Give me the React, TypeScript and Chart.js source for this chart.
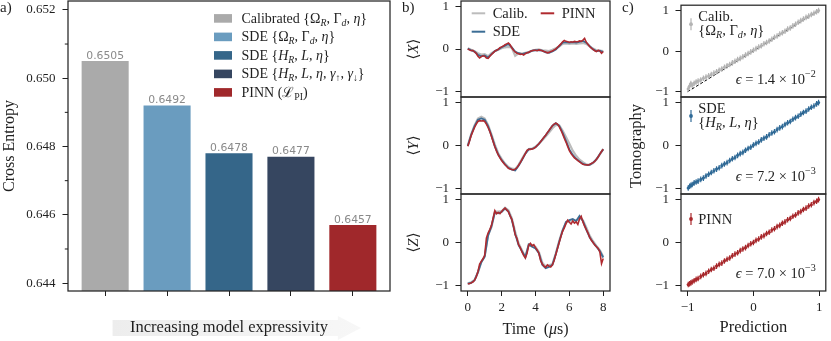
import React, { useEffect, useRef } from 'react';
import { Chart, registerables } from 'chart.js';

Chart.register(...registerables);

const SERIF = '"Liberation Serif", "DejaVu Serif", serif';
const SANS = '"DejaVu Sans", sans-serif';
const INK = '#1f1f1f';

// ---------------- panel a data ----------------
const MODEL_INDEX = [0, 1, 2, 3, 4];
const CROSS_ENTROPY = [0.6505, 0.6492, 0.6478, 0.6477, 0.6457];
const BAR_COLORS = ['#aaaaaa', '#6a9cbf', '#356689', '#364660', '#a0282b'];
const CE_MAJOR_TICKS = [0.644, 0.646, 0.648, 0.65, 0.652];
const CE_MINOR_TICKS = [0.645, 0.647, 0.649, 0.651];
const CE_RANGE = [0.64377, 0.65226];
const MODEL_RANGE = [-0.6, 4.6];

// ---------------- panel b data ----------------
const T_FINE = [
  0, 0.1, 0.2, 0.3, 0.4, 0.5, 0.6, 0.7, 0.8, 0.9,
  1.0, 1.1, 1.2, 1.3, 1.4, 1.5, 1.6, 1.7, 1.8, 1.9,
  2.0, 2.1, 2.2, 2.3, 2.4, 2.5, 2.6, 2.7, 2.8, 2.9,
  3.0, 3.1, 3.2, 3.3, 3.4, 3.5, 3.6, 3.7, 3.8, 3.9,
  4.0, 4.1, 4.2, 4.3, 4.4, 4.5, 4.6, 4.7, 4.8, 4.9,
  5.0, 5.1, 5.2, 5.3, 5.4, 5.5, 5.6, 5.7, 5.8, 5.9,
  6.0, 6.1, 6.2, 6.3, 6.4, 6.5, 6.6, 6.7, 6.8, 6.9,
  7.0, 7.1, 7.2, 7.3, 7.4, 7.5, 7.6, 7.7, 7.8, 7.9,
  8.0,
];
const T_COARSE = [
  0, 0.2, 0.4, 0.6, 0.8, 1.0, 1.2, 1.4, 1.6, 1.8,
  2.0, 2.2, 2.4, 2.6, 2.8, 3.0, 3.2, 3.4, 3.6, 3.8,
  4.0, 4.2, 4.4, 4.6, 4.8, 5.0, 5.2, 5.4, 5.6, 5.8,
  6.0, 6.2, 6.4, 6.6, 6.8, 7.0, 7.2, 7.4, 7.6, 7.8,
  8.0,
];

const X_PINN = [
  0.0, -0.02, -0.04, -0.03, -0.07, -0.1, -0.17, -0.21, -0.18, -0.16,
  -0.17, -0.21, -0.22, -0.17, -0.13, -0.09, -0.05, -0.03, -0.01, 0.03,
  0.05, 0.07, 0.1, 0.12, 0.14, 0.1, 0.03, -0.03, -0.07, -0.1,
  -0.11, -0.13, -0.12, -0.14, -0.11, -0.09, -0.08, -0.05, -0.04, -0.03,
  -0.03, -0.04, -0.02, -0.03, -0.04, -0.06, -0.07, -0.09, -0.08, -0.06,
  -0.05, -0.02, 0.0, 0.04, 0.08, 0.12, 0.17, 0.2, 0.18, 0.17,
  0.16, 0.17, 0.16, 0.18, 0.17, 0.17, 0.19, 0.18, 0.21, 0.25,
  0.16, 0.11, 0.06, 0.02, -0.01, -0.04, -0.06, -0.03, -0.05, -0.1,
  -0.06,
];
const X_SDE = [
  0.01, -0.03, -0.06, -0.14, -0.17, -0.15, -0.2, -0.12, -0.05, -0.01,
  0.04, 0.08, 0.12, 0.04, -0.06, -0.1, -0.12, -0.1, -0.08, -0.04,
  -0.03, -0.03, -0.04, -0.08, -0.09, -0.06, -0.01, 0.07, 0.15, 0.16,
  0.15, 0.16, 0.15, 0.17, 0.19, 0.15, 0.07, -0.01, -0.05, -0.04,
  -0.07,
];
const X_CALIB = [
  0.02, -0.02, -0.05, -0.1, -0.13, -0.12, -0.17, -0.1, -0.05, -0.02,
  0.02, 0.04, 0.05, 0.03, -0.16, -0.1, -0.11, -0.09, -0.07, -0.04,
  -0.02, -0.01, -0.03, -0.04, -0.05, -0.02, 0.02, 0.06, 0.12, 0.13,
  0.12, 0.13, 0.12, 0.13, 0.14, 0.12, 0.06, 0.01, -0.03, -0.04,
  -0.05,
];

const Y_PINN = [
  -0.02, 0.1, 0.23, 0.33, 0.42, 0.5, 0.56, 0.58, 0.57, 0.58,
  0.56, 0.5, 0.42, 0.33, 0.21, 0.09, -0.03, -0.13, -0.22, -0.29,
  -0.35, -0.4, -0.45, -0.49, -0.53, -0.55, -0.56, -0.57, -0.55, -0.52,
  -0.46, -0.4, -0.33, -0.26, -0.19, -0.11, -0.09, -0.09, -0.08, -0.07,
  -0.04, 0.0, 0.04, 0.09, 0.14, 0.19, 0.24, 0.3, 0.35, 0.41,
  0.46, 0.5, 0.52, 0.5, 0.44, 0.36, 0.27, 0.17, 0.08, -0.02,
  -0.12, -0.19, -0.24, -0.29, -0.32, -0.35, -0.38, -0.41, -0.44, -0.45,
  -0.45, -0.46, -0.44, -0.42, -0.4, -0.37, -0.32, -0.27, -0.2, -0.14,
  -0.09,
];
const Y_SDE = [
  -0.01, 0.25, 0.45, 0.6, 0.63, 0.6, 0.45, 0.23, -0.02, -0.21,
  -0.34, -0.44, -0.52, -0.56, -0.58, -0.47, -0.34, -0.19, -0.09, -0.08,
  -0.04, 0.04, 0.14, 0.24, 0.35, 0.46, 0.52, 0.46, 0.3, 0.11,
  -0.09, -0.22, -0.31, -0.37, -0.43, -0.45, -0.45, -0.4, -0.32, -0.2,
  -0.09,
];
const Y_CALIB = [
  0.0, 0.26, 0.47, 0.63, 0.67, 0.63, 0.48, 0.26, 0.02, -0.18,
  -0.31, -0.42, -0.5, -0.54, -0.55, -0.45, -0.31, -0.18, -0.08, -0.07,
  -0.03, 0.04, 0.12, 0.21, 0.3, 0.4, 0.48, 0.47, 0.35, 0.2,
  0.04, -0.12, -0.24, -0.33, -0.39, -0.44, -0.45, -0.41, -0.33, -0.21,
  -0.08,
];

const Z_PINN = [
  -0.96, -0.96, -0.94, -0.92, -0.88, -0.8, -0.68, -0.5, -0.44, -0.38,
  -0.3, 0.1, 0.22, 0.3, 0.4, 0.57, 0.74, 0.67, 0.7, 0.67,
  0.72, 0.77, 0.8, 0.76, 0.72, 0.62, 0.54, 0.38, 0.18, 0.1,
  -0.05, -0.12, -0.22, -0.3, -0.36, -0.25, -0.06, -0.02, -0.08, -0.05,
  -0.12, -0.18, -0.25, -0.42, -0.5, -0.55, -0.58, -0.52, -0.55, -0.57,
  -0.52, -0.42, -0.28, -0.14, 0.0, 0.14, 0.26, 0.34, 0.44, 0.52,
  0.47, 0.43, 0.5, 0.45, 0.48, 0.42, 0.55, 0.61, 0.48, 0.38,
  0.3, 0.22, 0.12, 0.05, 0.0, -0.06, -0.1, -0.14, -0.22, -0.49,
  -0.37,
];
const Z_SDE = [
  -0.96, -0.94, -0.88, -0.69, -0.46, -0.33, 0.16, 0.38, 0.7, 0.68,
  0.71, 0.79, 0.72, 0.53, 0.2, -0.06, -0.2, -0.34, -0.05, -0.1,
  -0.14, -0.25, -0.52, -0.6, -0.57, -0.52, -0.27, 0.02, 0.28, 0.48,
  0.52, 0.55, 0.5, 0.62, 0.5, 0.3, 0.12, 0.0, -0.1, -0.2,
  -0.35,
];
const Z_CALIB = [
  -0.95, -0.93, -0.87, -0.7, -0.45, -0.32, 0.18, 0.36, 0.72, 0.72,
  0.73, 0.81, 0.75, 0.57, 0.25, -0.02, -0.18, -0.34, -0.04, -0.06,
  -0.1, -0.22, -0.47, -0.56, -0.53, -0.5, -0.25, 0.04, 0.29, 0.46,
  0.5, 0.52, 0.5, 0.58, 0.52, 0.35, 0.16, 0.03, -0.08, -0.18,
  -0.33,
];

const PINN_TRACES = [X_PINN, Y_PINN, Z_PINN];
const SDE_TRACES = [X_SDE, Y_SDE, Z_SDE];
const CALIB_TRACES = [X_CALIB, Y_CALIB, Z_CALIB];
const OBSERVABLES = ['X', 'Y', 'Z'];
const TIME_TICKS = [0, 2, 4, 6, 8];
const TIME_RANGE = [-0.4, 8.4];
const BLOCH_TICKS = [-1, 0, 1];
const BLOCH_TICK_LABELS = ['\u22121', '0', '1'];
const BLOCH_RANGE = [-1.13, 1.13];

// ---------------- panel c data ----------------
const PREDICTION = [
  -0.99, -0.97, -0.95, -0.93, -0.9, -0.87, -0.84, -0.8, -0.76, -0.72,
  -0.68, -0.64, -0.6, -0.56, -0.52, -0.48, -0.44, -0.4, -0.36, -0.32,
  -0.28, -0.24, -0.2, -0.16, -0.12, -0.08, -0.04, 0.0, 0.04, 0.08,
  0.12, 0.16, 0.2, 0.24, 0.28, 0.32, 0.36, 0.4, 0.44, 0.48,
  0.52, 0.56, 0.6, 0.64, 0.68, 0.72, 0.76, 0.8, 0.84, 0.88,
  0.92, 0.96, 0.99,
];
const TOMO_CALIB = [
  -0.93, -0.86, -0.8, -0.84, -0.79, -0.76, -0.74, -0.71, -0.67, -0.64,
  -0.61, -0.58, -0.54, -0.51, -0.47, -0.44, -0.4, -0.36, -0.33, -0.29,
  -0.25, -0.21, -0.18, -0.14, -0.1, -0.06, -0.02, 0.02, 0.06, 0.1,
  0.13, 0.18, 0.21, 0.25, 0.29, 0.34, 0.37, 0.42, 0.45, 0.49,
  0.54, 0.57, 0.62, 0.66, 0.71, 0.75, 0.79, 0.83, 0.86, 0.9,
  0.93, 0.97, 1.0,
];
const TOMO_SDE = [
  -0.99, -0.95, -0.93, -0.91, -0.87, -0.85, -0.83, -0.79, -0.76, -0.71,
  -0.67, -0.63, -0.59, -0.55, -0.52, -0.47, -0.43, -0.4, -0.35, -0.31,
  -0.28, -0.23, -0.19, -0.16, -0.11, -0.07, -0.04, 0.01, 0.05, 0.08,
  0.13, 0.17, 0.2, 0.25, 0.29, 0.32, 0.37, 0.41, 0.44, 0.49,
  0.53, 0.56, 0.61, 0.65, 0.68, 0.73, 0.77, 0.8, 0.85, 0.89,
  0.92, 0.97, 1.0,
];
const TOMO_PINN = [
  -0.98, -0.96, -0.94, -0.92, -0.89, -0.86, -0.84, -0.79, -0.75, -0.72,
  -0.67, -0.63, -0.6, -0.55, -0.51, -0.48, -0.43, -0.39, -0.36, -0.31,
  -0.27, -0.24, -0.19, -0.15, -0.12, -0.07, -0.03, 0.0, 0.05, 0.08,
  0.13, 0.16, 0.21, 0.24, 0.29, 0.32, 0.37, 0.4, 0.45, 0.48,
  0.53, 0.56, 0.61, 0.64, 0.69, 0.72, 0.77, 0.8, 0.85, 0.88,
  0.93, 0.96, 1.0,
];
const TOMOGRAPHY = [TOMO_CALIB, TOMO_SDE, TOMO_PINN];
const DIAGONAL = [-1, 1];
const PARITY_RANGE = [-1.1, 1.1];
const EPS_MANTISSA = ['1.4', '7.2', '7.0'];
const EPS_EXPONENT = ['\u22122', '\u22123', '\u22123'];

// ---------------- styling / layout ----------------
const TRACE_COLORS = { calib: '#bcbcbc', sde: '#3b6d95', pinn: '#b02a2f' };
const PARITY_COLORS = ['#b3b3b3', '#2f6a97', '#a9272b'];
const ROW_EDGES = [1, 97, 194, 291];
const H = 341;

type Seg = { t: string; it?: boolean; sub?: boolean; sup?: boolean };

const segFont = (s: Seg, size: number) =>
  `${s.it ? 'italic ' : ''}${(s.sub || s.sup ? size * 0.7 : size).toFixed(2)}px ${SERIF}`;

function richWidth(ctx: CanvasRenderingContext2D, segs: Seg[], size: number) {
  let w = 0;
  for (const s of segs) {
    ctx.font = segFont(s, size);
    w += ctx.measureText(s.t).width;
  }
  return w;
}

function drawRich(
  ctx: CanvasRenderingContext2D,
  segs: Seg[],
  x: number,
  y: number,
  size: number,
  color: string,
  align: 'left' | 'right' | 'center' = 'left'
) {
  ctx.save();
  const w = richWidth(ctx, segs, size);
  let cx = align === 'left' ? x : align === 'right' ? x - w : x - w / 2;
  ctx.fillStyle = color;
  ctx.textAlign = 'left';
  ctx.textBaseline = 'alphabetic';
  for (const s of segs) {
    ctx.font = segFont(s, size);
    const dy = s.sub ? size * 0.22 : s.sup ? -size * 0.42 : 0;
    ctx.fillText(s.t, cx, y + dy);
    cx += ctx.measureText(s.t).width;
  }
  ctx.restore();
}

function drawRotated(ctx: CanvasRenderingContext2D, segs: Seg[], cx: number, cy: number, size: number) {
  ctx.save();
  ctx.translate(cx, cy);
  ctx.rotate(-Math.PI / 2);
  drawRich(ctx, segs, 0, size * 0.33, size, INK, 'center');
  ctx.restore();
}

const OMEGA_SET: Seg[] = [
  { t: '{' }, { t: '\u03A9' }, { t: 'R', it: true, sub: true }, { t: ', \u0393' },
  { t: 'd', it: true, sub: true }, { t: ', ' }, { t: '\u03B7', it: true }, { t: '}' },
];
const H_SET: Seg[] = [
  { t: '{' }, { t: 'H', it: true }, { t: 'R', it: true, sub: true }, { t: ', ' },
  { t: 'L', it: true }, { t: ', ' }, { t: '\u03B7', it: true }, { t: '}' },
];
const LEGEND_A: Seg[][] = [
  [{ t: 'Calibrated ' }, ...OMEGA_SET],
  [{ t: 'SDE ' }, ...OMEGA_SET],
  [{ t: 'SDE ' }, ...H_SET],
  [
    { t: 'SDE {' }, { t: 'H', it: true }, { t: 'R', it: true, sub: true }, { t: ', ' },
    { t: 'L', it: true }, { t: ', ' }, { t: '\u03B7', it: true }, { t: ', ' },
    { t: '\u03B3', it: true }, { t: '\u2191', sub: true }, { t: ', ' },
    { t: '\u03B3', it: true }, { t: '\u2193', sub: true }, { t: '}' },
  ],
  [{ t: 'PINN (' }, { t: '\u2112' }, { t: 'PI', sub: true }, { t: ')' }],
];
const LEGEND_C: Seg[][][] = [
  [[{ t: 'Calib.' }], OMEGA_SET],
  [[{ t: 'SDE' }], H_SET],
  [[{ t: 'PINN' }]],
];

const framePlugin = {
  id: 'frame',
  afterDatasetsDraw(chart: any) {
    const { ctx, chartArea: ca } = chart;
    ctx.save();
    ctx.strokeStyle = '#262626';
    ctx.lineWidth = 1.25;
    ctx.strokeRect(ca.left, ca.top, ca.right - ca.left, ca.bottom - ca.top);
    ctx.restore();
  },
};

function panelLabel(ctx: CanvasRenderingContext2D, text: string, x: number) {
  ctx.save();
  ctx.font = `15px ${SERIF}`;
  ctx.fillStyle = INK;
  ctx.textBaseline = 'alphabetic';
  ctx.textAlign = 'left';
  ctx.fillText(text, x, 12);
  ctx.restore();
}

function plainText(ctx: CanvasRenderingContext2D, text: string, x: number, y: number, size: number, rotate = false) {
  ctx.save();
  ctx.translate(x, y);
  if (rotate) ctx.rotate(-Math.PI / 2);
  ctx.font = `${size}px ${SERIF}`;
  ctx.fillStyle = INK;
  ctx.textAlign = 'center';
  ctx.textBaseline = 'middle';
  ctx.fillText(text, 0, 0);
  ctx.restore();
}

const tickFont = { family: SERIF, size: 13 };

function fixedTicks(values: number[]) {
  return (s: any) => {
    s.ticks = values.map((v) => ({ value: v }));
  };
}

function axisY(range: number[], ticks: number[], labels: string[], width: number, padding: number) {
  return {
    type: 'linear',
    min: range[0],
    max: range[1],
    beginAtZero: false,
    afterBuildTicks: fixedTicks(ticks),
    afterFit: (s: any) => {
      s.width = width;
      s.paddingTop = 0;
      s.paddingBottom = 0;
      s.paddingLeft = 0;
      s.paddingRight = 0;
    },
    ticks: { callback: (_v: any, i: number) => labels[i], font: tickFont, color: INK, padding },
    grid: { drawOnChartArea: false, drawTicks: true, tickLength: 5.5, tickColor: INK, tickWidth: 1 },
    border: { display: false },
  };
}

function axisX(range: number[], ticks: number[], labels: string[], show: boolean, height: number) {
  return {
    type: 'linear',
    min: range[0],
    max: range[1],
    display: show,
    offset: false,
    afterBuildTicks: fixedTicks(ticks),
    afterFit: (s: any) => {
      s.height = show ? height : 0;
      s.paddingTop = 0;
      s.paddingBottom = 0;
      s.paddingLeft = 0;
      s.paddingRight = 0;
    },
    ticks: {
      callback: (_v: any, i: number) => labels[i],
      font: tickFont,
      color: INK,
      padding: 4,
      maxRotation: 0,
      autoSkip: false,
    },
    grid: { drawOnChartArea: false, drawTicks: true, tickLength: 5, tickColor: INK, tickWidth: 1, offset: false },
    border: { display: false },
  };
}

const commonOpts = {
  responsive: false,
  animation: false,
  devicePixelRatio: 1,
  events: [],
};

// ---------------- panel a ----------------
function makeBarChart(canvas: HTMLCanvasElement) {
  const plugin = {
    id: 'panelA',
    afterDraw(chart: any) {
      const { ctx, chartArea: ca, scales } = chart;
      const y = scales.y;
      ctx.save();
      // minor ticks
      ctx.strokeStyle = INK;
      ctx.lineWidth = 1;
      for (const v of CE_MINOR_TICKS) {
        const py = y.getPixelForValue(v);
        ctx.beginPath();
        ctx.moveTo(ca.left - 3.2, py);
        ctx.lineTo(ca.left, py);
        ctx.stroke();
      }
      // value labels
      const meta = chart.getDatasetMeta(0);
      ctx.font = `10.8px ${SANS}`;
      ctx.fillStyle = '#8a8a8a';
      ctx.textAlign = 'center';
      ctx.textBaseline = 'alphabetic';
      meta.data.forEach((el: any, i: number) => {
        ctx.fillText(CROSS_ENTROPY[i].toFixed(4), el.x, el.y - 2.5);
      });
      // legend
      LEGEND_A.forEach((segs, i) => {
        const cy = 18.4 + i * 18.5;
        ctx.fillStyle = BAR_COLORS[i];
        ctx.fillRect(214, cy - 4.3, 18, 8.6);
        drawRich(ctx, segs, 241.5, cy + 4.4, 14, INK, 'left');
      });
      // arrow
      const x0 = scales.x.getPixelForValue(0.12);
      const xt = scales.x.getPixelForValue(4.13);
      const xh = xt - 23;
      const g = ctx.createLinearGradient(x0, 0, xt, 0);
      g.addColorStop(0, '#ededed');
      g.addColorStop(1, '#f7f7f7');
      ctx.fillStyle = g;
      ctx.beginPath();
      ctx.moveTo(x0, 320);
      ctx.lineTo(xh, 320);
      ctx.lineTo(xh, 316);
      ctx.lineTo(xt, 328);
      ctx.lineTo(xh, 340);
      ctx.lineTo(xh, 336);
      ctx.lineTo(x0, 336);
      ctx.closePath();
      ctx.fill();
      plainText(ctx, 'Increasing model expressivity', 229, 328, 16.5);
      // axis label
      plainText(ctx, 'Cross Entropy', 9.5, (ca.top + ca.bottom) / 2, 16, true);
      panelLabel(ctx, 'a)', 0);
      ctx.restore();
    },
  };
  return new Chart(canvas, {
    type: 'bar',
    data: {
      datasets: [
        {
          data: MODEL_INDEX.map((x, i) => ({ x, y: CROSS_ENTROPY[i] })),
          backgroundColor: BAR_COLORS,
          borderWidth: 0,
          barPercentage: 0.76,
          categoryPercentage: 1,
        },
      ],
    },
    options: {
      ...commonOpts,
      layout: { padding: { left: 0, right: 10, top: 1, bottom: 0 } },
      plugins: { legend: { display: false }, tooltip: { enabled: false } },
      scales: {
        x: axisX(MODEL_RANGE, MODEL_INDEX, MODEL_INDEX.map(() => ''), true, 50),
        y: axisY(CE_RANGE, CE_MAJOR_TICKS, CE_MAJOR_TICKS.map((v) => v.toFixed(3)), 68, 7),
      },
    } as any,
    plugins: [framePlugin, plugin],
  });
}

// ---------------- panel b ----------------
function makeTraceChart(canvas: HTMLCanvasElement, row: number) {
  const isBottom = row === 2;
  const plugin = {
    id: 'panelB' + row,
    afterDraw(chart: any) {
      const { ctx, chartArea: ca } = chart;
      drawRotated(
        ctx,
        [{ t: '\u27E8' }, { t: OBSERVABLES[row], it: true }, { t: '\u27E9' }],
        13,
        (ca.top + ca.bottom) / 2,
        15
      );
      if (row === 0) {
        panelLabel(ctx, 'b)', 2);
        const entries = [
          { label: 'Calib.', color: TRACE_COLORS.calib, dx: 0, dy: 0 },
          { label: 'PINN', color: TRACE_COLORS.pinn, dx: 69, dy: 0 },
          { label: 'SDE', color: TRACE_COLORS.sde, dx: 0, dy: 18.4 },
        ];
        ctx.save();
        for (const e of entries) {
          const lx = ca.left + 10.7 + e.dx;
          const ly = ca.top + 12.3 + e.dy;
          ctx.strokeStyle = e.color;
          ctx.lineWidth = 2;
          ctx.beginPath();
          ctx.moveTo(lx, ly);
          ctx.lineTo(lx + 13.5, ly);
          ctx.stroke();
          ctx.font = `14.5px ${SERIF}`;
          ctx.fillStyle = INK;
          ctx.textAlign = 'left';
          ctx.textBaseline = 'alphabetic';
          ctx.fillText(e.label, lx + 21, ly + 4.5);
        }
        ctx.restore();
      }
      if (isBottom) {
        drawRich(
          ctx,
          [{ t: 'Time  (' }, { t: '\u03BC', it: true }, { t: 's)' }],
          (ca.left + ca.right) / 2,
          333.5,
          16,
          INK,
          'center'
        );
      }
    },
  };
  const line = (t: number[], v: number[], color: string, order: number, width: number) => ({
    data: t.map((x, i) => ({ x, y: v[i] })),
    showLine: true,
    borderColor: color,
    backgroundColor: color,
    borderWidth: width,
    pointRadius: 0,
    tension: 0,
    order,
  });
  return new Chart(canvas, {
    type: 'scatter',
    data: {
      datasets: [
        line(T_FINE, PINN_TRACES[row], TRACE_COLORS.pinn, 0, 1.6),
        line(T_COARSE, SDE_TRACES[row], TRACE_COLORS.sde, 1, 1.8),
        line(T_COARSE, CALIB_TRACES[row], TRACE_COLORS.calib, 2, 2.2),
      ],
    },
    options: {
      ...commonOpts,
      layout: { padding: { left: 0, right: 10, top: ROW_EDGES[row], bottom: isBottom ? 0 : H - ROW_EDGES[row + 1] } },
      plugins: { legend: { display: false }, tooltip: { enabled: false } },
      scales: {
        x: axisX(TIME_RANGE, TIME_TICKS, TIME_TICKS.map(String), isBottom, H - ROW_EDGES[3]),
        y: axisY(BLOCH_RANGE, BLOCH_TICKS, BLOCH_TICK_LABELS, 61, 6.5),
      },
    } as any,
    plugins: [framePlugin, plugin],
  });
}

// ---------------- panel c ----------------
function makeParityChart(canvas: HTMLCanvasElement, row: number) {
  const isBottom = row === 2;
  const color = PARITY_COLORS[row];
  const plugin = {
    id: 'panelC' + row,
    afterDraw(chart: any) {
      const { ctx, chartArea: ca } = chart;
      const lines = LEGEND_C[row];
      const tx = ca.left + 17.3;
      const my = lines.length > 1 ? ca.top + 19 : ca.top + 25;
      ctx.save();
      ctx.strokeStyle = color;
      ctx.fillStyle = color;
      ctx.lineWidth = 1.2;
      ctx.beginPath();
      ctx.moveTo(ca.left + 10, my - 6);
      ctx.lineTo(ca.left + 10, my + 6);
      ctx.stroke();
      ctx.beginPath();
      ctx.arc(ca.left + 10, my, 1.9, 0, Math.PI * 2);
      ctx.fill();
      ctx.restore();
      if (lines.length > 1) {
        drawRich(ctx, lines[0], tx, ca.top + 15.7, 14.5, INK);
        drawRich(ctx, lines[1], tx, ca.top + 29.5, 14.5, INK);
      } else {
        drawRich(ctx, lines[0], tx, ca.top + 29.7, 14.5, INK);
      }
      drawRich(
        ctx,
        [{ t: '\u03F5', it: true }, { t: ' = ' + EPS_MANTISSA[row] + ' \u00D7 10' }, { t: EPS_EXPONENT[row], sup: true }],
        ca.right - 10,
        ca.bottom - 13.5,
        14.5,
        INK,
        'right'
      );
      if (row === 0) panelLabel(ctx, 'c)', 2);
      if (row === 1) plainText(ctx, 'Tomography', 17, (ROW_EDGES[0] + ROW_EDGES[3]) / 2, 16.5, true);
      if (isBottom) plainText(ctx, 'Prediction', (ca.left + ca.right) / 2, 328, 16.5);
    },
  };
  return new Chart(canvas, {
    type: 'scatter',
    data: {
      datasets: [
        {
          data: PREDICTION.map((x, i) => ({ x, y: TOMOGRAPHY[row][i] })),
          pointStyle: 'circle',
          pointRadius: 1.6,
          backgroundColor: color,
          borderWidth: 0,
          order: 0,
        },
        {
          data: PREDICTION.map((x, i) => ({ x, y: TOMOGRAPHY[row][i] })),
          pointStyle: 'line',
          pointRotation: 90,
          pointRadius: 2.8,
          borderColor: color,
          borderWidth: 1.2,
          order: 1,
        },
        {
          data: DIAGONAL.map((v) => ({ x: v, y: v })),
          showLine: true,
          borderColor: '#000000',
          borderWidth: 1,
          borderDash: [3, 2],
          pointRadius: 0,
          order: 2,
        },
      ],
    },
    options: {
      ...commonOpts,
      layout: { padding: { left: 0, right: 1, top: ROW_EDGES[row], bottom: isBottom ? 0 : H - ROW_EDGES[row + 1] } },
      plugins: { legend: { display: false }, tooltip: { enabled: false } },
      scales: {
        x: axisX(PARITY_RANGE, BLOCH_TICKS, BLOCH_TICK_LABELS, isBottom, H - ROW_EDGES[3]),
        y: axisY(BLOCH_RANGE, BLOCH_TICKS, BLOCH_TICK_LABELS, 61, 6.5),
      },
    } as any,
    plugins: [framePlugin, plugin],
  });
}

export default function App() {
  const aRef = useRef<HTMLCanvasElement>(null);
  const bRefs = useRef<(HTMLCanvasElement | null)[]>([]);
  const cRefs = useRef<(HTMLCanvasElement | null)[]>([]);

  useEffect(() => {
    document.body.style.margin = '0';
    const charts: Chart[] = [];
    if (aRef.current) charts.push(makeBarChart(aRef.current));
    [0, 1, 2].forEach((r) => {
      const b = bRefs.current[r];
      if (b) charts.push(makeTraceChart(b, r));
      const c = cRefs.current[r];
      if (c) charts.push(makeParityChart(c, r));
    });
    return () => charts.forEach((c) => c.destroy());
  }, []);

  const abs = (left: number, width: number): React.CSSProperties => ({
    position: 'absolute',
    left,
    top: 0,
    width,
    height: H,
  });

  return (
    <div style={{ position: 'absolute', left: 0, top: 0, width: 831, height: H, background: '#ffffff', overflow: 'hidden' }}>
      <canvas ref={aRef} width={400} height={H} style={abs(0, 400)} />
      {[0, 1, 2].map((r) => (
        <canvas
          key={'b' + r}
          ref={(el) => {
            bRefs.current[r] = el;
          }}
          width={220}
          height={H}
          style={abs(400, 220)}
        />
      ))}
      {[0, 1, 2].map((r) => (
        <canvas
          key={'c' + r}
          ref={(el) => {
            cRefs.current[r] = el;
          }}
          width={211}
          height={H}
          style={abs(620, 211)}
        />
      ))}
    </div>
  );
}
